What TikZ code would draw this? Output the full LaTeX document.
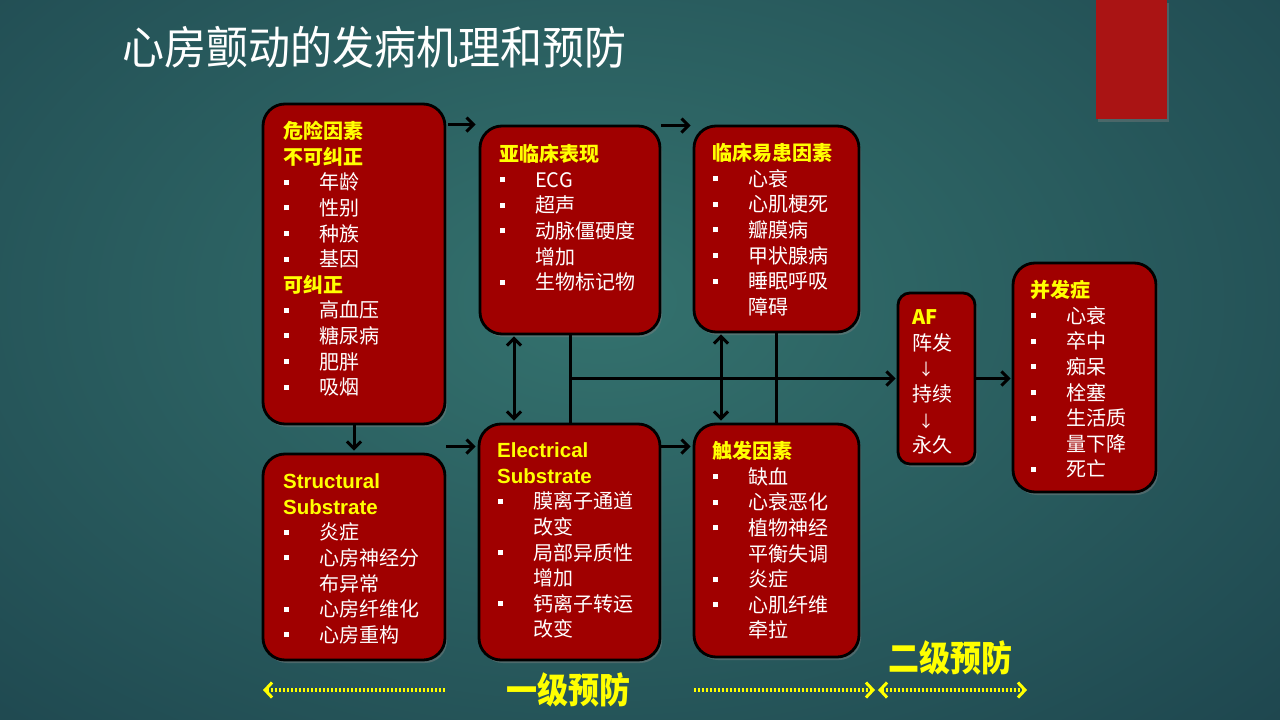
\documentclass[tikz,border=0pt]{standalone}
\usepackage{fontspec}
\setmainfont{Liberation Sans}
\newfontfamily\cjk{Noto Sans CJK SC}
\newfontfamily\arialb{Liberation Sans}
\usetikzlibrary{arrows.meta,shadows}
\definecolor{boxred}{RGB}{160,0,0}
\definecolor{yel}{RGB}{255,255,0}
\definecolor{bgin}{RGB}{52,114,110}
\definecolor{bgout}{RGB}{20,50,64}
\definecolor{tabred}{RGB}{170,20,20}
\newcommand\hd[1]{\multicolumn{2}{@{}l@{}}{\color{yel}\bfseries #1}}
\newcommand\hdl[1]{\multicolumn{2}{@{}l@{}}{\color{yel}\arialb\bfseries\fontsize{20.5}{25.6}\selectfont #1}}
\newcommand\bl{\makebox[36pt][l]{\hspace{1pt}\raisebox{5pt}{\rule{5pt}{5pt}}}}
\begin{document}
\begin{tikzpicture}[x=1pt,y=-1pt,
  box/.style={draw=black, line width=2.8pt, fill=boxred, rounded corners=22pt,
    drop shadow={shadow xshift=2pt, shadow yshift=-3pt, opacity=0.45}},
  txt/.style={anchor=north west, inner sep=0pt, text=white, font=\cjk\fontsize{20}{25.6}\selectfont},
  arr/.style={line width=3pt, -{Straight Barb[length=7pt,width=14pt]}},
  darr/.style={line width=3pt, {Straight Barb[length=7pt,width=14pt]}-{Straight Barb[length=7pt,width=14pt]}},
  conn/.style={line width=3pt},
  dotarr/.style={draw=yel, line width=3.4pt, dash pattern=on 2pt off 2pt,
    -{Straight Barb[length=7pt,width=15pt,line width=3pt]}},
  dotdarr/.style={draw=yel, line width=3.4pt, dash pattern=on 2pt off 2pt,
    {Straight Barb[length=7pt,width=15pt,line width=3pt]}-{Straight Barb[length=7pt,width=15pt,line width=3pt]}},
  lbl/.style={text=yel, inner sep=0pt, font=\cjk\bfseries\fontsize{31}{31}\selectfont, yscale=1.15}
]
\useasboundingbox (0,0) rectangle (1280,720);
\begin{scope}
  \clip (0,0) rectangle (1280,720);
  \shade[inner color=bgin, outer color=bgout] (-800,-600) rectangle (2000,1200);
\end{scope}

% top-right tab
\node (tab) [fill=tabred, inner sep=0pt, minimum width=71pt, minimum height=119pt,
  drop shadow={shadow xshift=2pt, shadow yshift=-3pt, opacity=0.4}] at (1131.5,59.5) {};

% title
\node (title) [anchor=west, inner sep=0pt, text=white, font=\cjk\fontsize{42}{42}\selectfont, yscale=1.08] at (122,47) {心房颤动的发病机理和预防};

% boxes
\node (risk)  [box, minimum width=182pt, minimum height=320pt] at (354,264) {};
\node (sub)   [box, minimum width=180pt, minimum height=208pt] at (570,230) {};
\node (clin)  [box, minimum width=165pt, minimum height=206pt] at (776.5,229) {};
\node (struc) [box, minimum width=182pt, minimum height=206pt] at (354,557) {};
\node (elec)  [box, minimum width=181pt, minimum height=236pt] at (569.5,542) {};
\node (trig)  [box, minimum width=165pt, minimum height=233pt] at (776.5,540.5) {};
\node (af)    [box, rounded corners=12pt, minimum width=77pt, minimum height=171pt] at (936.5,378.5) {};
\node (comp)  [box, minimum width=143pt, minimum height=229pt] at (1084.5,377.5) {};

% box texts
\node (risktxt) [txt] at (283,120.5) {\begin{tabular}{@{}l@{}l@{}}
\hd{危险因素}\\
\hd{不可纠正}\\
\bl&年龄\\
\bl&性别\\
\bl&种族\\
\bl&基因\\
\hd{可纠正}\\
\bl&高血压\\
\bl&糖尿病\\
\bl&肥胖\\
\bl&吸烟
\end{tabular}};

\node (subtxt) [txt] at (499,143.5) {\begin{tabular}{@{}l@{}l@{}}
\hd{亚临床表现}\\
\bl&ECG\\
\bl&超声\\
\bl&动脉僵硬度\\
&增加\\
\bl&生物标记物
\end{tabular}};

\node (clintxt) [txt] at (712,142.5) {\begin{tabular}{@{}l@{}l@{}}
\hd{临床易患因素}\\
\bl&心衰\\
\bl&心肌梗死\\
\bl&瓣膜病\\
\bl&甲状腺病\\
\bl&睡眠呼吸\\
&障碍
\end{tabular}};

\node (structxt) [txt] at (283,470.5) {\begin{tabular}{@{}l@{}l@{}}
\hdl{Structural}\\
\hdl{Substrate}\\
\bl&炎症\\
\bl&心房神经分\\
&布异常\\
\bl&心房纤维化\\
\bl&心房重构
\end{tabular}};

\node (electxt) [txt] at (497,439.5) {\begin{tabular}{@{}l@{}l@{}}
\hdl{Electrical}\\
\hdl{Substrate}\\
\bl&膜离子通道\\
&改变\\
\bl&局部异质性\\
&增加\\
\bl&钙离子转运\\
&改变
\end{tabular}};

\node (trigtxt) [txt] at (712,440.5) {\begin{tabular}{@{}l@{}l@{}}
\hd{触发因素}\\
\bl&缺血\\
\bl&心衰恶化\\
\bl&植物神经\\
&平衡失调\\
\bl&炎症\\
\bl&心肌纤维\\
&牵拉
\end{tabular}};

\node (aftxt) [txt] at (912,306.5) {\begin{tabular}{@{}l@{}}
{\color{yel}\bfseries AF}\\
阵发\\
\hspace{6pt}{\fontsize{16}{16}\selectfont ↓}\\
持续\\
\hspace{6pt}{\fontsize{16}{16}\selectfont ↓}\\
永久
\end{tabular}};

\node (comptxt) [txt] at (1030,279.5) {\begin{tabular}{@{}l@{}l@{}}
\hd{并发症}\\
\bl&心衰\\
\bl&卒中\\
\bl&痴呆\\
\bl&栓塞\\
\bl&生活质\\
&量下降\\
\bl&死亡
\end{tabular}};

% connectors
\draw[arr] ([shift={(2,22)}]risk.north east) -- ([shift={(-3,0)}]sub.north west);
\draw[arr] ([shift={(0,1)}]sub.north east) -- ([shift={(-2,1)}]clin.north west);
\draw[arr] (risk.south) -- ([shift={(0,-2)}]struc.north);
\draw[arr] ([shift={(0,-6)}]struc.north east) -- ([shift={(-2,24)}]elec.north west);
\draw[arr] ([shift={(0,24)}]elec.north east) -- ([shift={(-2,24)}]trig.north west);
\draw[darr] ([shift={(-56,1)}]sub.south) -- ([shift={(-55.5,-2)}]elec.north);
\draw[darr] ([shift={(-55.5,1)}]clin.south) -- ([shift={(-55.5,-2)}]trig.north);
\draw[conn] (sub.south) -- (sub.south |- elec.north);
\draw[conn] (clin.south) -- (trig.north);
\draw[arr] (sub.south |- af.west) -- ([shift={(-1,0)}]af.west);
\draw[arr] (af.east) -- ([shift={(-1,0)}]af.east -| comp.west);

% prevention arrows
\coordinate (d1a) at (445,690);
\coordinate (d1b) at (263,690);
\coordinate (d2a) at (694,690);
\coordinate (d2b) at (875,690);
\coordinate (d3a) at (878,690);
\coordinate (d3b) at (1027,690);
\draw[dotarr] (d1a) -- (d1b);
\draw[dotarr] (d2a) -- (d2b);
\draw[dotdarr] (d3a) -- (d3b);
\node (lbl1) [lbl] at (568,690) {一级预防};
\node (lbl2) [lbl] at (950,658) {二级预防};
\end{tikzpicture}
\end{document}
